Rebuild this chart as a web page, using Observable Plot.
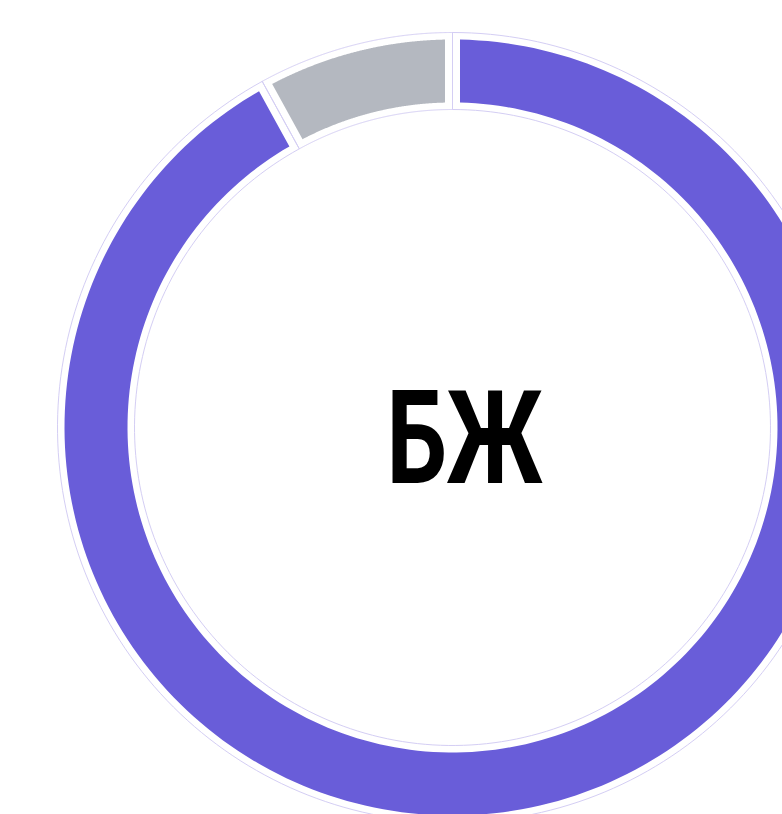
<!DOCTYPE html>
<html>
<head>
<meta charset="utf-8">
<script src="https://cdn.jsdelivr.net/npm/d3@7"></script>
<script src="https://cdn.jsdelivr.net/npm/@observablehq/plot@0.6"></script>
<style>
  html, body { margin: 0; padding: 0; background: #ffffff; }
  #chart { width: 782px; height: 814px; overflow: hidden; }
</style>
</head>
<body>
<div id="chart"></div>
<script>
// ---- data ----
const categories = ["Основная доля", "Остаток"];
const values = [92, 8];
const colors = ["#695dd9", "#b4b8c0"];
const centerLabel = "БЖ";

// ---- geometry helpers (data units = pixels) ----
const R_OUTER = 388, R_INNER = 325;       // filled ring
const O_OUTER = 395, O_INNER = 318;       // thin outline ring
const PAD = 7.5;                          // linear half-gap between slices
const total = d3.sum(values);
let acc = 0;
const slices = values.map((v, i) => {
  const a0 = acc / total * 2 * Math.PI;
  acc += v;
  const a1 = acc / total * 2 * Math.PI;
  return {category: categories[i], value: v, color: colors[i], a0, a1};
});

function arcPoints(a0, a1, r0, r1, pad, close) {
  const pts = [];
  const p1 = pad ? Math.asin(pad / r1) : 0;
  const p0 = pad ? Math.asin(pad / r0) : 0;
  const n = 240;
  const s1 = a0 + p1, e1 = a1 - p1;
  for (let k = 0; k <= n; k++) {
    const a = s1 + (e1 - s1) * k / n;
    pts.push({x: r1 * Math.sin(a), y: -r1 * Math.cos(a)});
  }
  const s0 = a1 - p0, e0 = a0 + p0;
  for (let k = 0; k <= n; k++) {
    const a = s0 + (e0 - s0) * k / n;
    pts.push({x: r0 * Math.sin(a), y: -r0 * Math.cos(a)});
  }
  if (close) pts.push(pts[0]);
  return pts;
}

const marks = [];
for (const s of slices) {
  marks.push(Plot.line(arcPoints(s.a0, s.a1, O_INNER, O_OUTER, 0, true), {
    x: "x", y: "y", stroke: "#d4cef4", strokeWidth: 1, fill: "none", curve: "linear"
  }));
}
for (const s of slices) {
  marks.push(Plot.line(arcPoints(s.a0, s.a1, R_INNER, R_OUTER, PAD, true), {
    x: "x", y: "y", fill: s.color, stroke: "none", curve: "linear"
  }));
}
marks.push(Plot.text([centerLabel], {
  x: () => 0, y: () => 0, text: d => d,
  fontSize: 129, fontWeight: "bold",
  fontFamily: "Roboto, 'Liberation Sans', sans-serif",
  fill: "#000000", textAnchor: "middle", dx: 12, dy: 14
}));

const chart = Plot.plot({
  width: 782,
  height: 814,
  margin: 0,
  x: {domain: [-452, 330], range: [0, 782], axis: null},
  y: {domain: [-427, 387], range: [0, 814], axis: null},
  style: {background: "#ffffff"},
  marks
});
// condensed look of the centre label
d3.select(chart).selectAll("text")
  .attr("textLength", 156)
  .attr("lengthAdjust", "spacingAndGlyphs");
document.getElementById("chart").appendChild(chart);
</script>
</body>
</html>
